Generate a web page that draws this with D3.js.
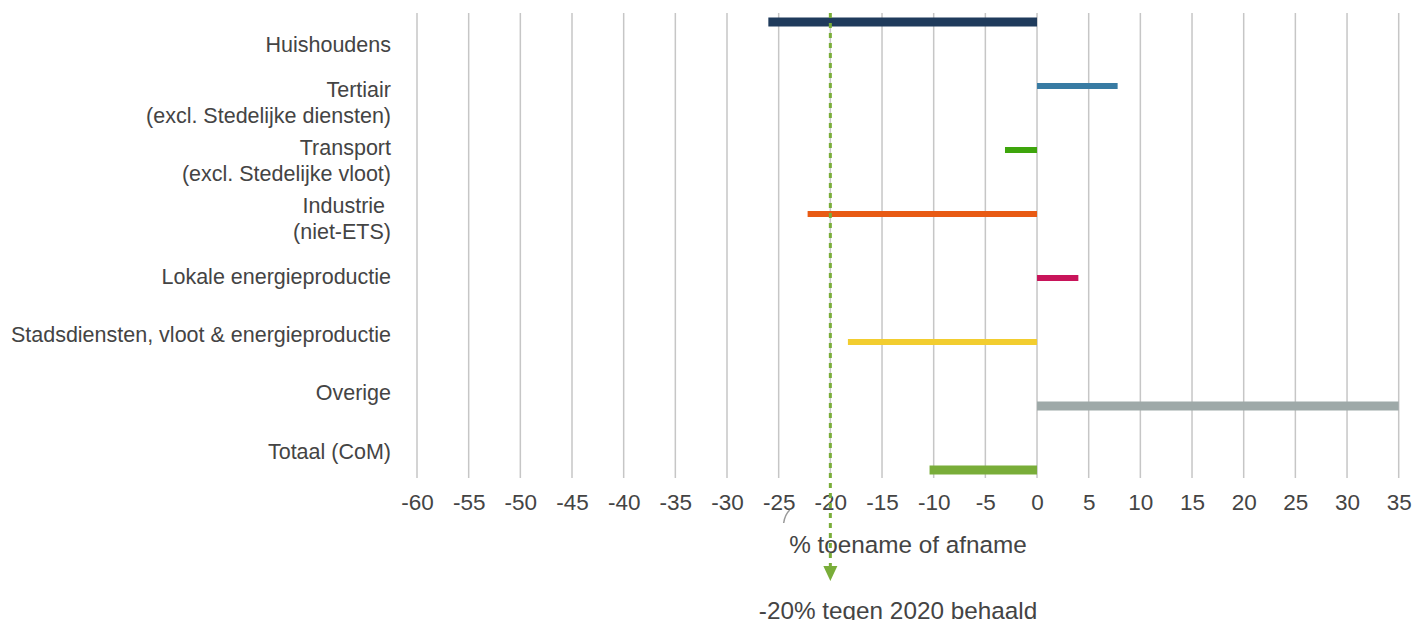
<!DOCTYPE html>
<html>
<head>
<meta charset="utf-8">
<script src="https://cdn.jsdelivr.net/npm/d3@7"></script>
<style>
  html, body { margin: 0; padding: 0; background: #fff; }
  svg { display: block; font-family: "Liberation Sans", Arial, Helvetica, sans-serif; }
  .cat text { white-space: pre; }
</style>
</head>
<body>
<svg id="chart" width="1412" height="620"></svg>
<script>
// Sector names (label lines) and % change per sector
const categories = [
  "Huishoudens",
  "Tertiair",
  "Transport",
  "Industrie",
  "Lokale energieproductie",
  "Stadsdiensten",
  "Overige",
  "Totaal"
];
const labelLines = [
  ["Huishoudens"],
  ["Tertiair", "(excl. Stedelijke diensten)"],
  ["Transport", "(excl. Stedelijke vloot)"],
  ["Industrie ", "(niet-ETS)"],
  ["Lokale energieproductie"],
  ["Stadsdiensten, vloot & energieproductie"],
  ["Overige"],
  ["Totaal (CoM)"]
];
const changes = [-26.0, 7.8, -3.1, -22.2, 4.0, -18.3, 35.0, -10.4];
const xTicks = [-60, -55, -50, -45, -40, -35, -30, -25, -20, -15, -10, -5, 0, 5, 10, 15, 20, 25, 30, 35];
const targetValue = -20;
const axisTitle = "% toename of afname";
const targetLabel = "-20% tegen 2020 behaald";

// Styling
const barColors = ["#1f3b5c", "#387ba3", "#3ea50c", "#e85a14", "#c8145a", "#f2cd2f", "#9ea9a8", "#79ad39"];
const barThickness = [9, 6, 6, 6, 6, 6, 9, 9];
const textColor = "#444";
const gridColor = "#c6c6c6";
const targetColor = "#79ad39";

const svg = d3.select("#chart");

const x = d3.scaleLinear().domain([-60, 35]).range([417, 1398.7]);
const y = d3.scaleBand().domain(categories).range([-10, 502]).paddingInner(0);
const yLabel = d3.scalePoint().domain(categories).range([44, 451]);

const gridTop = 13, gridBottom = 478;

// Vertical gridlines
svg.append("g")
  .selectAll("line")
  .data(xTicks)
  .join("line")
  .attr("x1", d => x(d)).attr("x2", d => x(d))
  .attr("y1", gridTop).attr("y2", gridBottom)
  .attr("stroke", gridColor)
  .attr("stroke-width", 1.5);

// Tick labels along the bottom
const xAxis = d3.axisBottom(x).tickValues(xTicks).tickSize(0).tickPadding(0)
  .tickFormat(d => d < 0 ? "-" + Math.abs(d) : String(d));
const gx = svg.append("g").attr("transform", `translate(0,${gridBottom})`).call(xAxis);
gx.select(".domain").remove();
gx.selectAll("text")
  .attr("y", 32).attr("dy", null)
  .attr("font-size", 22.5)
  .attr("font-family", "Liberation Sans, Arial, sans-serif")
  .attr("fill", textColor);

// Bars
svg.append("g")
  .selectAll("rect")
  .data(categories)
  .join("rect")
  .attr("x", (d, i) => x(Math.min(0, changes[i])))
  .attr("width", (d, i) => Math.abs(x(changes[i]) - x(0)))
  .attr("y", (d, i) => y(d) + y.bandwidth() / 2 - barThickness[i] / 2)
  .attr("height", (d, i) => barThickness[i])
  .attr("fill", (d, i) => barColors[i]);

// Sector labels (right-aligned, one or two lines)
const lineGap = 26;
const cat = svg.append("g").attr("class", "cat")
  .selectAll("text")
  .data(categories)
  .join("text")
  .attr("text-anchor", "end")
  .attr("font-size", 21.5)
  .attr("fill", textColor)
  .attr("transform", d => `translate(391,${yLabel(d)})`);
cat.selectAll("tspan")
  .data((d, i) => labelLines[i].map((t, j, arr) => ({ t, j, n: arr.length })))
  .join("tspan")
  .attr("x", 0)
  .attr("y", l => (l.j - (l.n - 1) / 2) * lineGap)
  .attr("dy", "0.35em")
  .text(l => l.t);

// Target marker: dashed line with arrow head
const tx = x(targetValue);
svg.append("line")
  .attr("x1", tx).attr("x2", tx)
  .attr("y1", gridTop).attr("y2", 567)
  .attr("stroke", targetColor)
  .attr("stroke-width", 3)
  .attr("stroke-dasharray", "5,5");
svg.append("path")
  .attr("d", `M${tx - 7},566 L${tx + 7},566 L${tx},581 Z`)
  .attr("fill", targetColor);

// Small connector stroke near the axis labels
const cx = x(-25) + 5;
svg.append("path")
  .attr("d", `M${cx + 6},510 Q${cx + 1},515 ${cx},523`)
  .attr("fill", "none")
  .attr("stroke", "#9a9a9a")
  .attr("stroke-width", 1.5);

// Axis title and target label
svg.append("text")
  .attr("x", 908).attr("y", 553)
  .attr("text-anchor", "middle")
  .attr("font-size", 24.3)
  .attr("fill", textColor)
  .text(axisTitle);
svg.append("text")
  .attr("x", 898).attr("y", 619)
  .attr("text-anchor", "middle")
  .attr("font-size", 24.3)
  .attr("fill", textColor)
  .text(targetLabel);
</script>
</body>
</html>
